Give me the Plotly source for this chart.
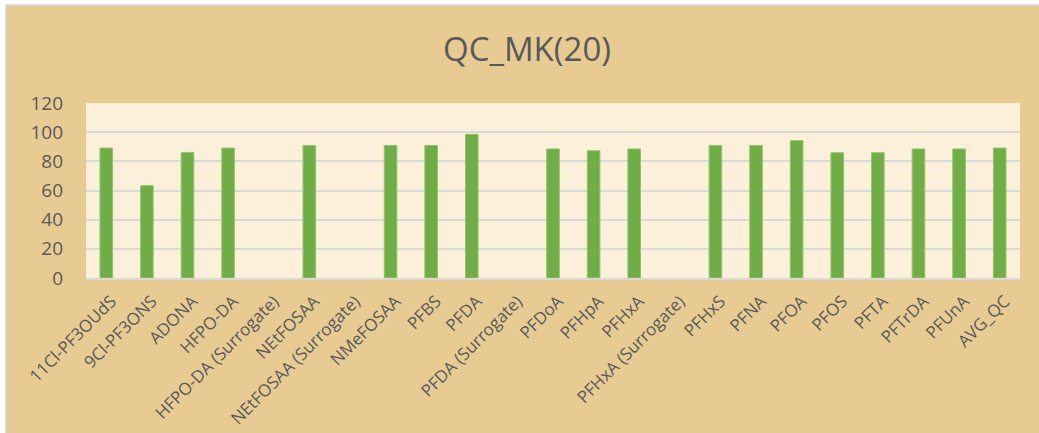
import plotly.graph_objects as go

# QC recovery results (%) per analyte
categories = [
    "11Cl-PF3OUdS", "9Cl-PF3ONS", "ADONA", "HFPO-DA", "HFPO-DA (Surrogate)",
    "NEtFOSAA", "NEtFOSAA (Surrogate)", "NMeFOSAA", "PFBS", "PFDA",
    "PFDA (Surrogate)", "PFDoA", "PFHpA", "PFHxA", "PFHxA (Surrogate)",
    "PFHxS", "PFNA", "PFOA", "PFOS", "PFTA", "PFTrDA", "PFUnA", "AVG_QC",
]
recovery = [
    89.1, 63.3, 86.1, 89.1, None,
    90.9, None, 90.9, 90.9, 98.5,
    None, 88.5, 87.3, 88.5, None,
    90.9, 90.9, 94.2, 85.9, 85.9, 88.5, 88.5, 89.1,
]
y_ticks = [0, 20, 40, 60, 80, 100, 120]

W, H = 1039, 433
L, R, T, B = 86, 19, 103, 155
plot_w = W - L - R
plot_h = H - T - B

FONT = "Open Sans"
TEXT = "#595959"

fig = go.Figure(
    go.Bar(
        x=categories,
        y=recovery,
        marker=dict(color="#70AD47", line=dict(color="#8FC46A", width=1)),
        width=0.31,
    )
)

# convert pixel positions to paper coordinates (relative to the plot area)
def px_x(px):
    return (px - L) / plot_w

def px_y(py):
    return (H - B - py) / plot_h

# papyrus-toned chart frame
fig.add_shape(
    type="rect", xref="paper", yref="paper", layer="below",
    x0=px_x(6), x1=px_x(W + 2), y0=px_y(H + 2), y1=px_y(5),
    fillcolor="#E8CB93", line=dict(color="#D6D6D6", width=1.5),
)
# light parchment plot area
fig.add_shape(
    type="rect", xref="paper", yref="paper", layer="below",
    x0=0, x1=1, y0=0, y1=1,
    fillcolor="#FCF0DA", line=dict(width=0),
)

fig.update_layout(
    width=W, height=H,
    margin=dict(l=L, r=R, t=T, b=B, pad=0, autoexpand=False),
    paper_bgcolor="white",
    plot_bgcolor="#FCF0DA",
    showlegend=False,
    title=dict(
        text="QC_MK(20)", x=527 / W, xanchor="center",
        y=1 - 49 / H, yanchor="middle", yref="container",
        font=dict(family=FONT, size=33, color=TEXT),
    ),
    xaxis=dict(
        type="category", tickangle=-45, automargin=False,
        tickfont=dict(family=FONT, size=17, color=TEXT),
        showgrid=False, showline=True, linecolor="#D9D9D9", linewidth=1.5,
        ticks="", zeroline=False,
        ticklabelstandoff=5, ticklabelshift=5,
    ),
    yaxis=dict(
        range=[0, 120], tickvals=y_ticks, automargin=False,
        tickfont=dict(family=FONT, size=19, color=TEXT),
        showgrid=True, gridcolor="#D9D9D9", gridwidth=1.5,
        zeroline=False, showline=False, ticks="",
        ticklabelstandoff=22,
    ),
)

fig.write_html("out.html")
